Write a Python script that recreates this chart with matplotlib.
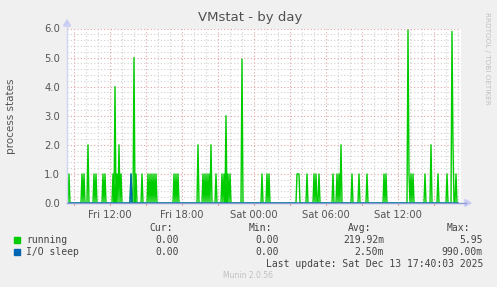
import numpy as np
import matplotlib
matplotlib.use("Agg")
import matplotlib.pyplot as plt
from matplotlib.ticker import FixedLocator

# ---------------- data ----------------
# 5-minute samples starting Fri 08:25 (hours relative to Sat 00:00)
start_hour = -15.5833
n_samples = 392
sample_step_h = 5 / 60

running_idx = [0, 2, 15, 17, 21, 27, 29, 36, 38, 46, 48, 50, 52, 54, 64, 67, 69,
               75, 81, 83, 85, 87, 89, 107, 109, 111, 131, 136, 138, 140, 142,
               144, 149, 155, 157, 159, 161, 163, 175, 195, 200, 202, 230, 231,
               232, 240, 247, 249, 252, 266, 270, 272, 274, 285, 292, 300, 317,
               319, 341, 342, 344, 346, 358, 364, 371, 380, 385, 386, 389]
running_val = [1, 1, 1, 1, 2, 1, 1, 1, 1, 1, 4, 1, 2, 1, 1, 5, 1,
               1, 1, 1, 1, 1, 1, 1, 1, 1, 2, 1, 1, 1, 1,
               2, 1, 1, 1, 3, 1, 1, 4.95, 1, 1, 1, 1, 1,
               1, 1, 1, 1, 1, 1, 1, 1, 2, 1, 1, 1, 1,
               1, 5.95, 1, 1, 1, 1, 2, 1, 1, 5.9, 2, 1]
iosleep_idx = [64]
iosleep_val = [1]

xtick_hours = [-12, -6, 0, 6, 12]
xtick_labels = ["Fri 12:00", "Fri 18:00", "Sat 00:00", "Sat 06:00", "Sat 12:00"]
ytick_values = [0, 1, 2, 3, 4, 5, 6]

legend_names = ["running", "I/O sleep"]
legend_colors = ["#00CC00", "#0066B3"]
cur_vals = ["0.00", "0.00"]
min_vals = ["0.00", "0.00"]
avg_vals = ["219.92m", "2.50m"]
max_vals = ["5.95", "990.00m"]

# ---------------- figure ----------------
W, H = 497, 287
fig = plt.figure(figsize=(W / 100, H / 100), dpi=100)
fig.patch.set_facecolor("#F0F0F0")

px_l, px_r, px_t, px_b = 67, 461, 28.5, 203
ax = fig.add_axes([px_l / W, 1 - px_b / H, (px_r - px_l) / W, (px_b - px_t) / H])
ax.set_facecolor("white")

t = start_hour + np.arange(n_samples) * sample_step_h
run = np.zeros(n_samples)
run[running_idx] = running_val
io = np.zeros(n_samples)
io[iosleep_idx] = iosleep_val

xmin = (px_l - 254) / 12
xmax = (px_r - 254) / 12
ax.set_xlim(xmin, xmax)
ax.set_ylim(0, 6)

minor_c = "#CFCFCF"
major_c = "#E2A4A4"
# grid
for h in np.arange(-15, 18, 1):
    if h % 3 == 0:
        continue
    ax.axvline(h, color=minor_c, lw=0.8, ls=(0, (1, 2)), zorder=0)
for h in np.arange(-15, 18, 3):
    ax.axvline(h, color=major_c, lw=0.8, ls=(0, (1, 2)), zorder=0.5)
for y in np.arange(0.2, 6.01, 0.2):
    if abs(y - round(y)) < 1e-6:
        continue
    ax.axhline(y, color=minor_c, lw=0.8, ls=(0, (1, 2)), zorder=0)
for y in ytick_values[1:]:
    ax.axhline(y, color=major_c, lw=0.8, ls=(0, (1, 2)), zorder=0.5)

ax.plot(t, run, color=legend_colors[0], lw=1.0, zorder=2)
ax.plot(t, io, color=legend_colors[1], lw=1.0, zorder=3)

for s in ax.spines.values():
    s.set_visible(False)

# axis lines with arrows
fig.add_artist(plt.Line2D([px_l / W, 466 / W], [1 - px_b / H, 1 - px_b / H], color="#8C9CD8", lw=1.0,
                          zorder=5))
fig.add_artist(plt.Line2D([px_l / W, px_l / W], [1 - px_b / H, 1 - 24 / H], color="#D0D6F2", lw=1.0))
fig.add_artist(plt.Polygon([[465 / W, 1 - 199.5 / H], [465 / W, 1 - 206.5 / H], [471 / W, 1 - px_b / H]],
                           closed=True, color="#C8CCF4", transform=fig.transFigure))
fig.add_artist(plt.Polygon([[63.5 / W, 1 - 26 / H], [70.5 / W, 1 - 26 / H], [px_l / W, 1 - 20 / H]],
                           closed=True, color="#C8CCF4", transform=fig.transFigure))

# ticks
ax.xaxis.set_major_locator(FixedLocator(xtick_hours))
ax.set_xticklabels(xtick_labels)
ax.yaxis.set_major_locator(FixedLocator(ytick_values))
ax.set_yticklabels([f"{v:.1f}" for v in ytick_values])
ax.tick_params(axis="x", which="both", length=0, pad=5, labelsize=7.2, labelcolor="#555555")
ax.tick_params(axis="y", which="both", length=0, pad=5, labelsize=7.2, labelcolor="#555555")
for tk in np.arange(-15, 18, 3):
    ax.plot([tk, tk], [0, -0.07], color="#E2A4A4", lw=0.8, clip_on=False, zorder=1)

# texts
fig.text(250 / W, 1 - 18 / H, "VMstat - by day", ha="center", va="center", fontsize=9.5, color="#505050")
fig.text(11 / W, 1 - 116 / H, "process states", ha="center", va="center", rotation=90,
         fontsize=7.5, color="#555555")
fig.text(487 / W, 1 - 58 / H, "RRDTOOL / TOBI OETIKER", ha="center", va="center", rotation=270,
         fontsize=5.2, color="#C0C0C0")

mono = "DejaVu Sans Mono"
fs = 7
tc = "#444444"
for x, lab in [(173, "Cur:"), (272, "Min:"), (371, "Avg:"), (470, "Max:")]:
    fig.text(x / W, 1 - 228 / H, lab, ha="right", va="center", family=mono, fontsize=fs, color=tc)
rows_y = [240, 252]
for i in range(2):
    y = 1 - rows_y[i] / H
    fig.add_artist(plt.Rectangle((14 / W, y - 3 / H), 6 / W, 6 / H, color=legend_colors[i],
                                 transform=fig.transFigure))
    fig.text(26 / W, y, legend_names[i], ha="left", va="center", family=mono, fontsize=fs, color=tc)
    fig.text(179 / W, y, cur_vals[i], ha="right", va="center", family=mono, fontsize=fs, color=tc)
    fig.text(279 / W, y, min_vals[i], ha="right", va="center", family=mono, fontsize=fs, color=tc)
    fig.text(384 / W, y, avg_vals[i], ha="right", va="center", family=mono, fontsize=fs, color=tc)
    fig.text(483 / W, y, max_vals[i], ha="right", va="center", family=mono, fontsize=fs, color=tc)
fig.text(483 / W, 1 - 264 / H, "Last update: Sat Dec 13 17:40:03 2025", ha="right", va="center",
         family=mono, fontsize=fs, color=tc)
fig.text(248 / W, 1 - 276 / H, "Munin 2.0.56", ha="center", va="center", fontsize=5.5, color="#C0C0C0")

fig.savefig("out.png", dpi=100, facecolor=fig.get_facecolor())
